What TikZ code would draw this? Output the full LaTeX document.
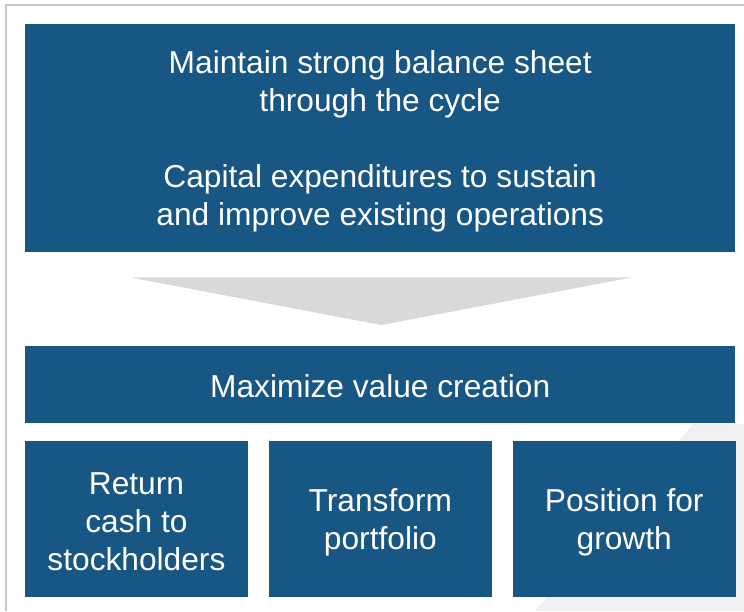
\documentclass[tikz,border=0pt]{standalone}
\usepackage{fontspec}
\setmainfont{Liberation Sans}
\usepackage{tikz}
\usetikzlibrary{calc,positioning}
\definecolor{boxblue}{RGB}{24,86,132}
\definecolor{framegray}{RGB}{200,200,200}
\definecolor{arrowgray}{RGB}{217,217,217}
\definecolor{cornergray}{RGB}{240,240,240}
\newcommand{\ls}{\rule[-4pt]{0pt}{34pt}}
\tikzset{
	bluebox/.style={
		rectangle,
		fill=boxblue,
		text=white,
		inner sep=0pt,
		align=center,
		font=\fontsize{31.7}{38}\selectfont},
	widebox/.style={
		bluebox,
		minimum width=710pt},
	smallbox/.style={
		bluebox,
		minimum width=222.5pt,
		minimum height=156pt},
	frame/.style={draw=framegray, line width=1.5pt},
}

\begin{document}
\begin{tikzpicture}
			[x=1pt,y=-1pt,
			node distance=21pt]
			\useasboundingbox (0,0) rectangle (744,611);
			% light corner and outer frame
			\fill[cornergray] (535,611) -- (693,424) -- (744,424) -- (744,611) -- cycle;
			\draw[frame] (6,611) -- (6,5) -- (744,5);
			% top box
			\node[widebox, minimum height=228pt, anchor=north west] (base) at (25,24)
				{\ls Maintain strong balance sheet\\through the cycle\\[38pt]Capital expenditures to sustain\\and improve existing operations\ls};
			% value creation
			\node[widebox, minimum height=77pt, anchor=north west] (value) at (25,346) {\ls Maximize value creation\ls};
			\node[smallbox, anchor=north west] (ret) at (25,441) {\ls Return\\cash to\\stockholders\ls};
			\node[smallbox, right=of ret] (trans) {\ls Transform\\portfolio\ls};
			\node[smallbox, right=of trans] (grow) {\ls Position for\\growth\ls};
			% arrow
			\coordinate (tipL) at ($(base.south)+(-250,25)$);
			\coordinate (tipR) at ($(base.south)+(252,25)$);
			\coordinate (tip) at ($(value.north)+(1,-21)$);
			\fill[arrowgray] (tipL) -- (tipR) -- (tip) -- cycle;
			\end{tikzpicture}
\end{document}
